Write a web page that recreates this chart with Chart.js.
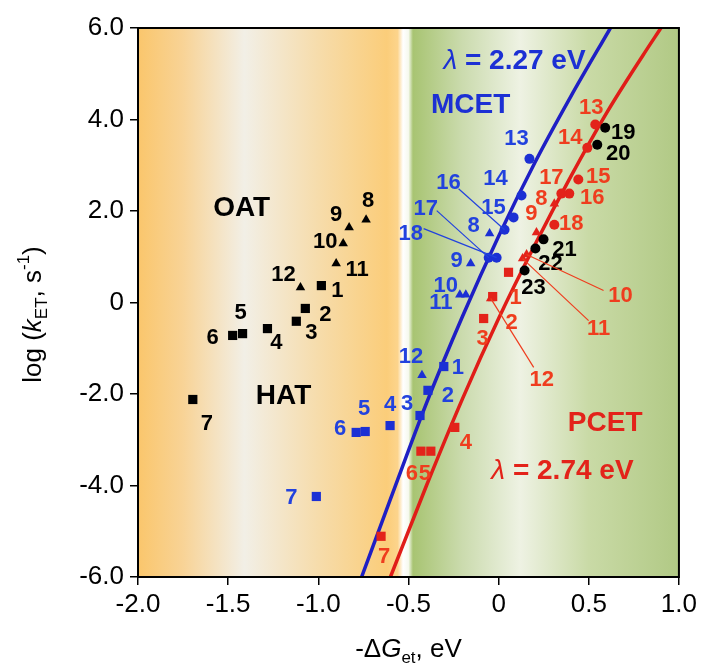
<!DOCTYPE html>
<html>
<head>
<meta charset="utf-8">
<script src="https://cdn.jsdelivr.net/npm/chart.js@4.4.0/dist/chart.umd.min.js"></script>
<style>
  html, body { margin: 0; padding: 0; background: #fff; }
  #wrap { width: 701px; height: 666px; }
</style>
</head>
<body>
<div id="wrap"><canvas id="chart" width="701" height="666"></canvas></div>
<script>
// ---- data ----
const xTicks = ['-2.0', '-1.5', '-1.0', '-0.5', '0', '0.5', '1.0'];
const yTicks = ['-6.0', '-4.0', '-2.0', '0', '2.0', '4.0', '6.0'];

// OAT (black triangles) and HAT (black squares)
const oatIds = ['8', '9', '10', '11', '12'];
const oatX = [-0.735, -0.829, -0.862, -0.901, -1.099];
const oatY = [1.81, 1.64, 1.29, 0.85, 0.33];
const hatIds = ['1', '2', '3', '4', '5', '6', '7'];
const hatX = [-0.983, -1.072, -1.122, -1.282, -1.420, -1.475, -1.696];
const hatY = [0.37, -0.13, -0.41, -0.57, -0.68, -0.72, -2.12];

// MCET (blue)
const mcSqIds = ['1', '2', '3', '4', '5', '6', '7'];
const mcSqX = [-0.304, -0.392, -0.436, -0.602, -0.740, -0.790, -1.011];
const mcSqY = [-1.40, -1.92, -2.47, -2.69, -2.82, -2.84, -4.24];
const mcTriIds = ['8', '9', '10', '11', '12'];
const mcTriX = [-0.050, -0.155, -0.182, -0.215, -0.425];
const mcTriY = [1.51, 0.85, 0.17, 0.17, -1.59];
const mcCirIds = ['13', '14', '15', '16', '17', '18'];
const mcCirX = [0.171, 0.127, 0.083, 0.033, -0.055, -0.011];
const mcCirY = [3.14, 2.34, 1.86, 1.59, 0.98, 0.98];

// PCET (red)
const pcSqIds = ['1', '2', '3', '4', '5', '6', '7'];
const pcSqX = [0.055, -0.033, -0.083, -0.243, -0.376, -0.431, -0.652];
const pcSqY = [0.66, 0.13, -0.35, -2.73, -3.25, -3.25, -5.11];
const pcTriIds = ['8', '9', '10', '11', '12'];
const pcTriX = [0.309, 0.210, 0.155, 0.133, -0.044];
const pcTriY = [2.16, 1.53, 1.05, 0.96, 0.09];
const pcCirIds = ['13', '14', '15', '16', '17', '18'];
const pcCirX = [0.536, 0.492, 0.442, 0.392, 0.348, 0.309];
const pcCirY = [3.89, 3.38, 2.69, 2.38, 2.38, 1.70];

// other (black circles)
const otherIds = ['19', '20', '21', '22', '23'];
const otherX = [0.591, 0.547, 0.249, 0.204, 0.144];
const otherY = [3.82, 3.45, 1.38, 1.18, 0.70];

// Marcus curves, points
const blueCurveX = [-0.76, -0.6, -0.4, -0.2, 0, 0.2, 0.4, 0.62];
const blueCurveY = [-6.0, -4.3, -2.2, -0.3, 1.45, 3.05, 4.5, 6.0];
const redCurveX = [-0.6, -0.4, -0.2, 0, 0.2, 0.4, 0.6, 0.8, 0.9];
const redCurveY = [-6.0, -4.0, -2.1, -0.35, 1.25, 2.75, 4.15, 5.4, 6.0];

// ---- layout / style ----
const fam = '"Liberation Sans", Arial, Helvetica, sans-serif';
const BLUE = '#1c30d4';
const BLUE_TXT = '#2242de';
const RED = '#e3231a';
const RED_TXT = '#ef3d1e';

// label offsets in px (dx, dy) from the marker centre
const oatOff = [[2, -19], [-13, -13], [-18, -2], [21, 6], [-17, -12]];
const hatOff = [[16, 5], [20, 6], [15, 12], [9, 14], [-2, -21], [-20, 2], [14, 24]];
const mcSqOff = [[14, 1], [20, 6], [-13, -12], [0, -21], [-1, -23], [-16, -3], [-25, 1]];
const mcTriOff = [[-16, -7], [-14, -3], [-20, -9], [-19, 8], [-11, -18]];
const mcCirOff = [[-13, -20], [-26, -17], [-20, -9], [-56, -47], [-63, -49], [-86, -24]];
const mcCirLead = [null, null, null, [-46, -41], [-52, -47], [-73, -29]];
const pcSqOff = [[7, 26], [19, 26], [-1, 20], [11, 16], [-6, 23], [-9, 23], [3, 21]];
const pcTriOff = [[-13, -5], [-5, -19], [94, 41], [76, 70], [51, 82]];
const pcTriLead = [null, null, [77, 36], [66, 62], [43, 69]];
const pcCirOff = [[-4, -17], [-17, -10], [20, -2], [23, 4], [-10, -16], [17, -1]];
const otherOff = [[18, 5], [21, 9], [21, 11], [15, 15], [9, 17]];

// background bands: [x value, colour]
const bandStops = [
  [-2.0, '#fac66c'], [-1.75, '#f8d396'], [-1.41, '#f2efe6'], [-1.0, '#f6dcab'],
  [-0.62, '#fbcd7a'], [-0.56, '#fcd48c'], [-0.53, '#ffffff'], [-0.50, '#f6f9ee'],
  [-0.475, '#a8c472'], [-0.2, '#cbdbae'], [0.12, '#eef2e3'], [0.5, '#c9daa6'], [1.0, '#b1c985']
];

const notes = [
  { x: -1.425, y: 2.07, color: '#000', parts: [{ t: 'OAT' }] },
  { x: -1.193, y: -2.05, color: '#000', parts: [{ t: 'HAT' }] },
  { x: -0.155, y: 4.30, color: BLUE, parts: [{ t: 'MCET' }] },
  { x: 0.088, y: 5.28, color: BLUE, parts: [{ t: 'λ', i: 1, n: 1 }, { t: ' = 2.27 eV' }] },
  { x: 0.591, y: -2.64, color: RED, parts: [{ t: 'PCET' }] },
  { x: 0.354, y: -3.69, color: RED, parts: [{ t: 'λ', i: 1, n: 1 }, { t: ' = 2.74 eV' }] }
];

const pts = (xs, ys) => xs.map((x, i) => ({ x: x, y: ys[i] }));

function markers(xs, ys, ids, offs, style, color, txt, r, leads) {
  return {
    data: pts(xs, ys),
    ids: ids, offs: offs, leads: leads || null, txt: txt,
    showLine: false,
    pointStyle: style,
    pointRadius: r,
    pointHoverRadius: r,
    pointBackgroundColor: color,
    pointBorderColor: color,
    pointBorderWidth: 0
  };
}

function curve(xs, ys, color) {
  return {
    data: pts(xs, ys),
    showLine: true,
    borderColor: color,
    borderWidth: 3.5,
    pointRadius: 0,
    cubicInterpolationMode: 'monotone',
    fill: false
  };
}

// ---- rich text helper ----
function partFont(p, size, bold) {
  const small = p.sub || p.sup;
  const s = small ? Math.round(size * 0.66) : size;
  return (p.i ? 'italic ' : '') + (bold && !p.n ? 'bold ' : '') + s + 'px ' + fam;
}
function drawRich(ctx, parts, cx, cy, size, bold) {
  let w = 0;
  parts.forEach(p => { ctx.font = partFont(p, size, bold); w += ctx.measureText(p.t).width; });
  let x = cx - w / 2;
  ctx.textAlign = 'left';
  ctx.textBaseline = 'middle';
  parts.forEach(p => {
    ctx.font = partFont(p, size, bold);
    const dy = p.sub ? size * 0.32 : p.sup ? -size * 0.36 : 0;
    ctx.fillText(p.t, x, cy + dy);
    x += ctx.measureText(p.t).width;
  });
}

const bandsPlugin = {
  id: 'bands',
  beforeDraw(chart) {
    const { ctx, chartArea: a, scales: { x } } = chart;
    const g = ctx.createLinearGradient(a.left, 0, a.right, 0);
    bandStops.forEach(([v, c]) => {
      g.addColorStop((x.getPixelForValue(v) - a.left) / (a.right - a.left), c);
    });
    ctx.save();
    ctx.fillStyle = g;
    ctx.fillRect(a.left, a.top, a.right - a.left, a.bottom - a.top);
    ctx.restore();
  }
};

const labelsPlugin = {
  id: 'numLabels',
  afterDatasetsDraw(chart) {
    const ctx = chart.ctx;
    ctx.save();
    chart.data.datasets.forEach((ds, i) => {
      if (!ds.ids) return;
      const meta = chart.getDatasetMeta(i);
      meta.data.forEach((el, j) => {
        if (ds.leads && ds.leads[j]) {
          ctx.strokeStyle = ds.txt;
          ctx.lineWidth = 1.2;
          ctx.beginPath();
          ctx.moveTo(el.x, el.y);
          ctx.lineTo(el.x + ds.leads[j][0], el.y + ds.leads[j][1]);
          ctx.stroke();
        }
        ctx.fillStyle = ds.txt;
        ctx.font = 'bold 22px ' + fam;
        ctx.textAlign = 'center';
        ctx.textBaseline = 'middle';
        ctx.fillText(ds.ids[j], el.x + ds.offs[j][0], el.y + ds.offs[j][1]);
      });
    });
    // region captions
    const { x, y } = chart.scales;
    notes.forEach(n => {
      ctx.fillStyle = n.color;
      drawRich(ctx, n.parts, x.getPixelForValue(n.x), y.getPixelForValue(n.y), 28, true);
    });
    ctx.restore();
  },
  afterDraw(chart) {
    const { ctx, chartArea: a } = chart;
    ctx.save();
    ctx.strokeStyle = '#000';
    ctx.lineWidth = 2;
    ctx.strokeRect(a.left, a.top, a.right - a.left, a.bottom - a.top);
    ctx.fillStyle = '#000';
    // axis titles
    drawRich(ctx, [{ t: '-Δ' }, { t: 'G', i: 1 }, { t: 'et', sub: 1 }, { t: ', eV' }],
      (a.left + a.right) / 2, 650, 26, false);
    ctx.translate(34, (a.top + a.bottom) / 2 + 12);
    ctx.rotate(-Math.PI / 2);
    drawRich(ctx, [{ t: 'log (' }, { t: 'k', i: 1 }, { t: 'ET', sub: 1 }, { t: ', s' }, { t: '-1', sup: 1 }, { t: ')' }],
      0, 0, 26, false);
    ctx.restore();
  }
};

const tickFmt = list => v => {
  const s = Math.abs(v) < 1e-9 ? '0' : v.toFixed(1);
  return list.includes(s) ? s : '';
};

new Chart(document.getElementById('chart'), {
  type: 'scatter',
  data: {
    datasets: [
      markers(oatX, oatY, oatIds, oatOff, 'triangle', '#000', '#000', 5.5),
      markers(hatX, hatY, hatIds, hatOff, 'rect', '#000', '#000', 6.5),
      markers(otherX, otherY, otherIds, otherOff, 'circle', '#000', '#000', 5),
      markers(mcSqX, mcSqY, mcSqIds, mcSqOff, 'rect', BLUE, BLUE_TXT, 6.5),
      markers(mcTriX, mcTriY, mcTriIds, mcTriOff, 'triangle', BLUE, BLUE_TXT, 5.5),
      markers(mcCirX, mcCirY, mcCirIds, mcCirOff, 'circle', BLUE, BLUE_TXT, 5, mcCirLead),
      markers(pcSqX, pcSqY, pcSqIds, pcSqOff, 'rect', RED, RED_TXT, 6.5),
      markers(pcTriX, pcTriY, pcTriIds, pcTriOff, 'triangle', RED, RED_TXT, 5.5, pcTriLead),
      markers(pcCirX, pcCirY, pcCirIds, pcCirOff, 'circle', RED, RED_TXT, 5),
      curve(blueCurveX, blueCurveY, '#1f1fc4'),
      curve(redCurveX, redCurveY, '#e01d18')
    ]
  },
  options: {
    responsive: false,
    animation: false,
    devicePixelRatio: 1,
    layout: { padding: { left: 0, top: 28, right: 20, bottom: 0 } },
    plugins: { legend: { display: false }, tooltip: { enabled: false } },
    scales: {
      x: {
        type: 'linear', min: -2, max: 1,
        afterFit: s => { s.height = 89; },
        ticks: { stepSize: 0.5, color: '#000', padding: 4, font: { size: 26, family: fam }, callback: tickFmt(xTicks), maxRotation: 0 },
        grid: { drawOnChartArea: false, drawTicks: true, tickLength: 8, color: '#000', lineWidth: 1.5 },
        border: { display: true, color: '#000', width: 2 }
      },
      y: {
        type: 'linear', min: -6, max: 6,
        afterFit: s => { s.width = 138; },
        ticks: { stepSize: 2, color: '#000', padding: 6, font: { size: 26, family: fam }, callback: tickFmt(yTicks) },
        grid: { drawOnChartArea: false, drawTicks: true, tickLength: 8, color: '#000', lineWidth: 1.5 },
        border: { display: true, color: '#000', width: 2 }
      }
    }
  },
  plugins: [bandsPlugin, labelsPlugin]
});
</script>
</body>
</html>
